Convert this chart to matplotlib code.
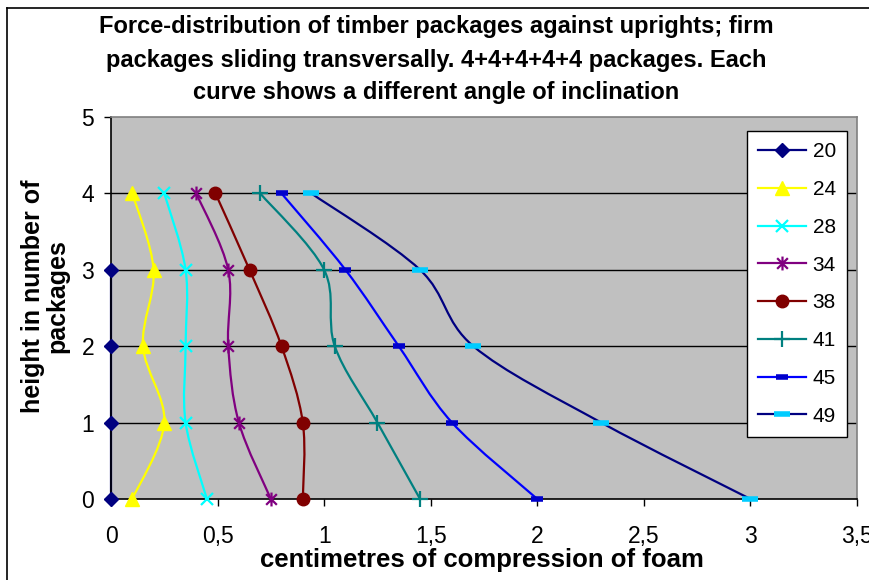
import matplotlib
matplotlib.use("Agg")
import matplotlib.pyplot as plt
from matplotlib.path import Path
from matplotlib.patches import PathPatch
from matplotlib.lines import Line2D
from matplotlib.ticker import FuncFormatter
import numpy as np

plt.rcParams['font.family'] = ['Liberation Sans', 'DejaVu Sans']

# Angle of inclination for each curve
angles = ["20", "24", "28", "34", "38", "41", "45", "49"]

# Height (number of packages) for each measurement
heights = [0, 1, 2, 3, 4]

# Compression of foam (cm) at heights 0..4 for each angle
comp_20 = [0.0, 0.0, 0.0, 0.0]          # measured only up to height 3
comp_24 = [0.10, 0.25, 0.15, 0.20, 0.10]
comp_28 = [0.45, 0.35, 0.35, 0.35, 0.25]
comp_34 = [0.75, 0.60, 0.55, 0.55, 0.40]
comp_38 = [0.90, 0.90, 0.80, 0.65, 0.49]
comp_41 = [1.45, 1.25, 1.05, 1.00, 0.70]
comp_45 = [2.00, 1.60, 1.35, 1.10, 0.80]
comp_49 = [3.00, 2.30, 1.70, 1.45, 0.94]

title_lines = [
    "Force-distribution of timber packages against uprights; firm",
    "packages sliding transversally. 4+4+4+4+4 packages. Each",
    "curve shows a different angle of inclination",
]
x_label = "centimetres of compression of foam"
y_label = "height in number of\npackages"

# Asterisk marker: an "x" crossed by a vertical stroke
star_path = Path(
    [(-1, -1), (1, 1), (-1, 1), (1, -1), (0, -1.3), (0, 1.3)],
    [Path.MOVETO, Path.LINETO, Path.MOVETO, Path.LINETO, Path.MOVETO, Path.LINETO],
)

styles = [
    dict(color="#000080", marker="D", mfc="#000080", mec="#000080", ms=7, mew=1),
    dict(color="#FFFF00", marker="^", mfc="#FFFF00", mec="#FFFF00", ms=10, mew=1),
    dict(color="#00FFFF", marker="x", mfc="none", mec="#00FFFF", ms=9, mew=1.6),
    dict(color="#800080", marker=star_path, mfc="none", mec="#800080", ms=10, mew=1.6),
    dict(color="#800000", marker="o", mfc="#800000", mec="#800000", ms=9, mew=1),
    dict(color="#008080", marker="+", mfc="none", mec="#008080", ms=12, mew=1.6),
    dict(color="#0000FF", marker="_", mfc="#0000CC", mec="#0000CC", ms=8, mew=4),
    dict(color="#000080", marker="_", mfc="#00CCFF", mec="#00CCFF", ms=12, mew=4),
]

series = [comp_20, comp_24, comp_28, comp_34, comp_38, comp_41, comp_45, comp_49]


def smooth_path(xs, ys):
    """Cubic Bezier path through the points (Catmull-Rom style smoothing)."""
    pts = np.column_stack([xs, ys]).astype(float)
    n = len(pts)
    verts = [tuple(pts[0])]
    codes = [Path.MOVETO]
    for i in range(n - 1):
        p0 = pts[i - 1] if i > 0 else pts[i]
        p1 = pts[i]
        p2 = pts[i + 1]
        p3 = pts[i + 2] if i + 2 < n else pts[i + 1]
        c1 = p1 + (p2 - p0) / 6.0
        c2 = p2 - (p3 - p1) / 6.0
        verts += [tuple(c1), tuple(c2), tuple(p2)]
        codes += [Path.CURVE4] * 3
    return Path(verts, codes)


fig = plt.figure(figsize=(8.69, 5.80), dpi=100)
W, H = 869, 580
ax = fig.add_axes([111 / W, 1 - 499 / H, (857 - 111) / W, (499 - 117) / H])
ax.set_facecolor("#C0C0C0")
ax.set_xlim(0, 3.5)
ax.set_ylim(0, 5)

# horizontal gridlines
for yv in [1, 2, 3, 4]:
    ax.axhline(yv, color="black", lw=1.0, zorder=1)

handles = []
for vals, st, lab in zip(series, styles, angles):
    hs = heights[:len(vals)]
    patch = PathPatch(smooth_path(vals, hs), fill=False, edgecolor=st["color"],
                      lw=1.6, transform=ax.transData, zorder=2, clip_on=False)
    ax.add_patch(patch)
    ax.plot(vals, hs, linestyle="none", marker=st["marker"], ms=st["ms"],
            mfc=st["mfc"], mec=st["mec"], mew=st["mew"], zorder=3, clip_on=False)
    handles.append(Line2D([], [], color=st["color"], lw=1.6, marker=st["marker"],
                          ms=st["ms"], mfc=st["mfc"], mec=st["mec"], mew=st["mew"],
                          label=lab))

for side in ["left", "bottom"]:
    ax.spines[side].set_color("black")
    ax.spines[side].set_linewidth(1.2)
for side in ["top", "right"]:
    ax.spines[side].set_color("#808080")
    ax.spines[side].set_linewidth(1.2)

ax.set_xticks(np.arange(0, 3.51, 0.5))
ax.set_yticks(range(0, 6))
fmt = FuncFormatter(lambda v, p: ("%g" % v).replace(".", ","))
ax.xaxis.set_major_formatter(fmt)
ax.tick_params(axis="x", direction="out", length=5, width=1, pad=14, labelsize=16.5)
ax.tick_params(axis="y", direction="out", length=5, width=1, pad=7, labelsize=16.5)

fig.text(482 / W, 1 - 560 / H, x_label, ha="center", va="center",
         fontsize=18.5, fontweight="bold")
fig.text(45 / W, 1 - 296 / H, y_label, rotation=90, ha="center", va="center",
         fontsize=18, fontweight="bold", linespacing=1.0)

for i, line in enumerate(title_lines):
    fig.text(436 / W, 1 - (27 + 33 * i) / H, line, ha="center", va="center",
             fontsize=17, fontweight="bold")

leg = ax.legend(handles=handles, loc="upper left",
                bbox_to_anchor=(747 / W, 1 - 131 / H), bbox_transform=fig.transFigure,
                borderaxespad=0, fancybox=False, framealpha=1, edgecolor="black",
                fontsize=15, handlelength=2.3, handletextpad=0.3, labelspacing=0.9,
                borderpad=0.55)
leg.get_frame().set_linewidth(1.0)

# outer chart frame
fig.add_artist(Line2D([7.5 / W, 7.5 / W], [0, 1 - 7.5 / H], color="black", lw=1.2,
                      transform=fig.transFigure))
fig.add_artist(Line2D([7.5 / W, 1], [1 - 7.5 / H, 1 - 7.5 / H], color="black", lw=1.2,
                      transform=fig.transFigure))

fig.savefig("out.png", dpi=100, facecolor="white")
